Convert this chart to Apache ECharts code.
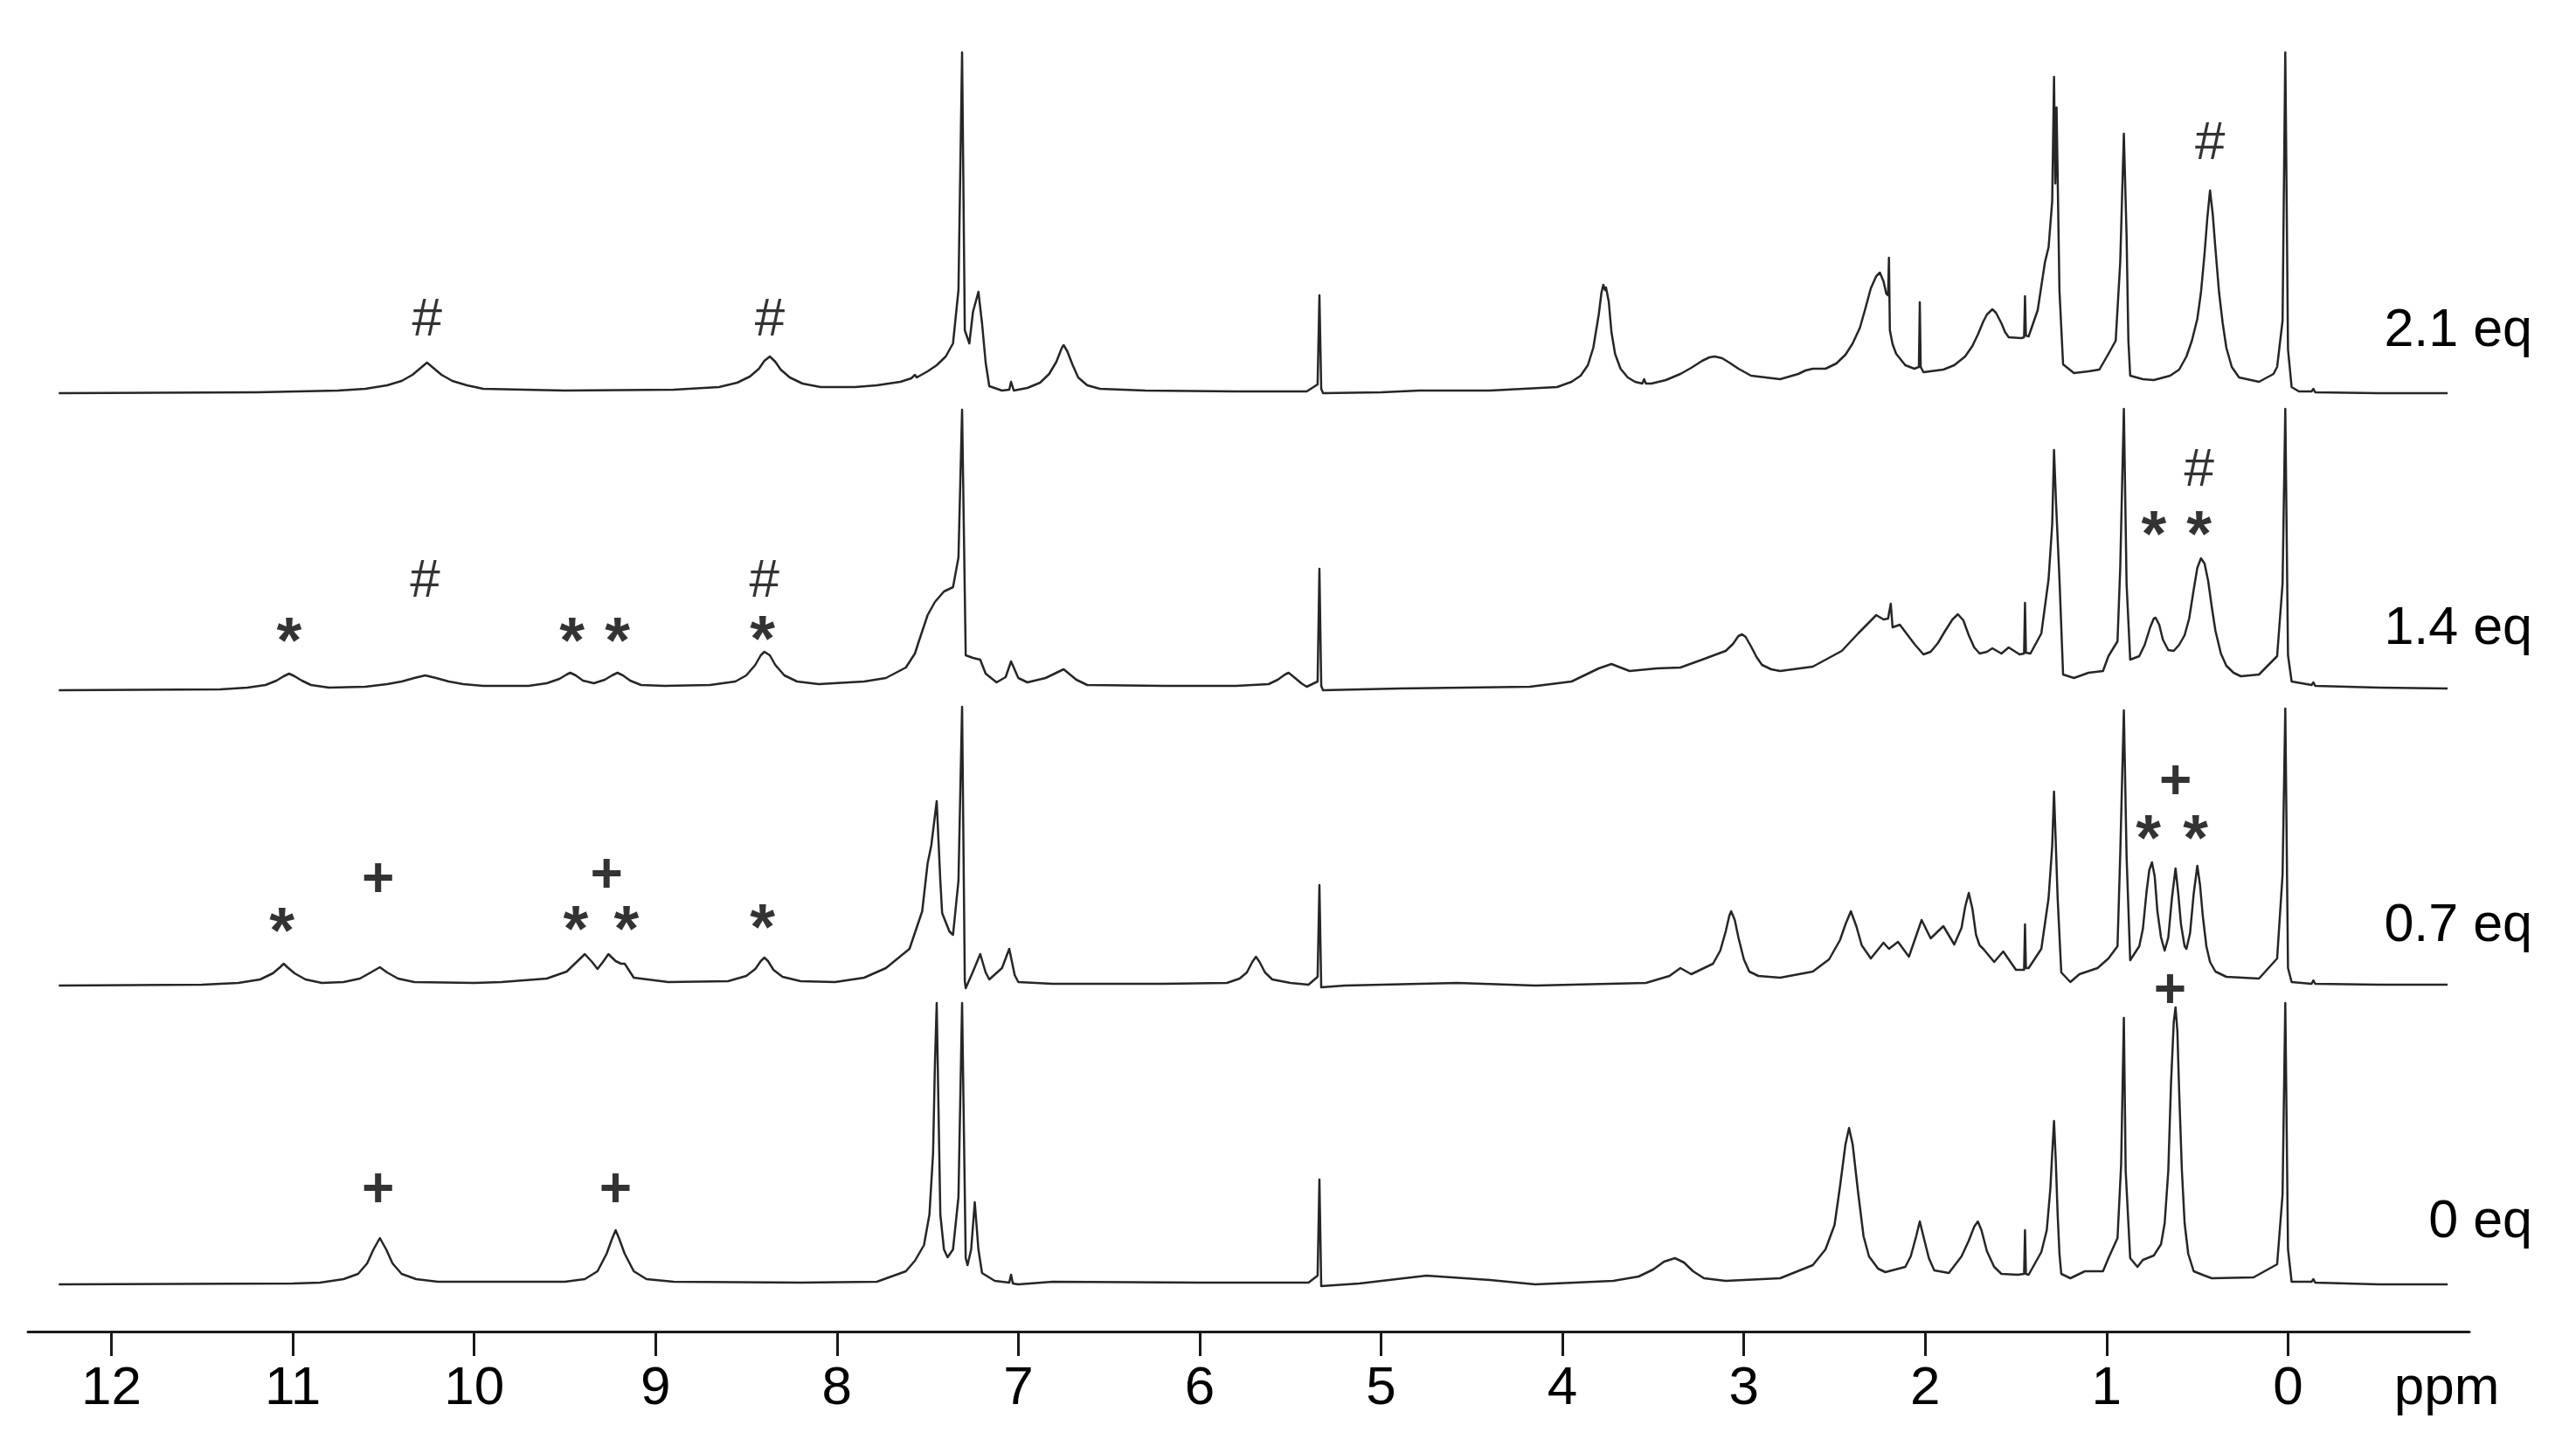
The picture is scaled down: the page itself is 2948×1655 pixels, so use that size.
<!DOCTYPE html>
<html>
<head>
<meta charset="utf-8">
<title>1H NMR titration</title>
<script src="https://cdn.jsdelivr.net/npm/echarts@6.0.0/dist/echarts.min.js"></script>
<style>
  html, body { margin: 0; padding: 0; background: #fff; }
  #main { width: 2948px; height: 1655px; }
</style>
</head>
<body>
<div id="main"></div>
<script>
// trace names, top to bottom
var traceNames = ['2.1 eq', '1.4 eq', '0.7 eq', '0 eq'];
var tickValues = [0, 1, 2, 3, 4, 5, 6, 7, 8, 9, 10, 11, 12];

// [ppm, intensity]
var spec21 = [[12.29,0],[11.2,1],[10.75,3],[10.6,5],[10.48,9],[10.40,14],[10.34,21],[10.30,28],[10.26,35],[10.22,28],[10.18,21],[10.12,14],[10.04,9],[9.95,5],[9.5,3],[8.9,4],[8.65,7],[8.55,12],[8.48,19],[8.43,28],[8.40,37],[8.37,42],[8.34,36],[8.31,27],[8.26,18],[8.19,11],[8.09,7],[7.9,7],[7.78,9],[7.65,13],[7.59,17],[7.57,21],[7.56,18],[7.5,25],[7.45,32],[7.40,42],[7.36,57],[7.33,118],[7.31,390],[7.295,72],[7.27,57],[7.25,93],[7.22,116],[7.20,80],[7.18,35],[7.16,8],[7.09,3],[7.05,4],[7.04,13],[7.025,3],[6.95,6],[6.88,12],[6.83,22],[6.79,36],[6.76,52],[6.75,55],[6.73,48],[6.70,32],[6.67,18],[6.62,9],[6.55,5],[6.3,3],[5.8,2],[5.41,2],[5.35,10],[5.34,112],[5.33,5],[5.32,0],[5.0,1],[4.79,3],[4.4,3],[4.03,7],[3.95,13],[3.90,20],[3.86,32],[3.83,52],[3.80,90],[3.785,115],[3.775,124],[3.765,118],[3.76,121],[3.745,105],[3.73,70],[3.71,45],[3.68,28],[3.64,18],[3.60,13],[3.56,11],[3.55,16],[3.54,11],[3.51,11],[3.43,15],[3.35,22],[3.29,29],[3.23,37],[3.19,41],[3.16,42],[3.12,40],[3.08,35],[3.03,28],[2.96,20],[2.80,16],[2.70,22],[2.66,26],[2.62,28],[2.55,28],[2.49,34],[2.44,44],[2.40,57],[2.36,75],[2.33,97],[2.30,120],[2.27,134],[2.25,138],[2.23,128],[2.215,114],[2.205,112],[2.20,155],[2.195,72],[2.18,56],[2.16,45],[2.11,32],[2.06,28],[2.035,30],[2.03,104],[2.025,30],[2.01,24],[1.90,27],[1.84,32],[1.78,42],[1.74,54],[1.71,67],[1.68,82],[1.66,90],[1.63,96],[1.61,92],[1.58,80],[1.56,70],[1.54,64],[1.47,63],[1.455,64],[1.45,111],[1.445,66],[1.43,65],[1.38,95],[1.34,150],[1.32,167],[1.30,220],[1.29,362],[1.283,240],[1.276,327],[1.26,117],[1.24,33],[1.18,23],[1.10,25],[1.04,27],[0.99,45],[0.95,60],[0.925,150],[0.905,297],[0.89,180],[0.88,60],[0.87,20],[0.80,16],[0.74,15],[0.65,20],[0.60,27],[0.56,42],[0.53,60],[0.50,85],[0.48,115],[0.46,160],[0.445,200],[0.43,232],[0.415,205],[0.40,165],[0.38,115],[0.36,80],[0.34,52],[0.31,30],[0.27,18],[0.16,13],[0.08,22],[0.06,30],[0.03,83],[0.015,390],[0.0,50],[-0.02,7],[-0.06,2],[-0.13,2],[-0.14,5],[-0.15,1],[-0.5,0],[-0.88,0]];

var spec14 = [[12.29,0],[11.4,1],[11.25,3],[11.15,6],[11.09,11],[11.05,16],[11.02,19],[10.99,16],[10.95,11],[10.90,6],[10.8,3],[10.6,4],[10.48,7],[10.40,10],[10.33,14],[10.27,17],[10.21,14],[10.14,10],[10.06,7],[9.95,5],[9.7,5],[9.60,8],[9.53,13],[9.49,18],[9.47,20],[9.44,17],[9.40,11],[9.34,8],[9.28,12],[9.24,17],[9.21,20],[9.18,17],[9.14,11],[9.08,6],[8.95,5],[8.7,6],[8.56,10],[8.50,17],[8.45,29],[8.42,40],[8.40,44],[8.37,40],[8.34,29],[8.29,17],[8.22,10],[8.1,7],[7.85,10],[7.73,14],[7.62,26],[7.57,42],[7.55,55],[7.50,86],[7.46,101],[7.41,113],[7.36,118],[7.33,152],[7.31,321],[7.29,40],[7.25,37],[7.21,35],[7.18,19],[7.12,9],[7.07,15],[7.04,33],[7.00,14],[6.95,9],[6.85,14],[6.75,24],[6.68,12],[6.62,6],[6.2,5],[5.80,5],[5.62,7],[5.57,12],[5.53,18],[5.51,20],[5.48,15],[5.44,8],[5.41,4],[5.35,10],[5.34,139],[5.33,5],[5.32,0],[4.9,2],[4.18,4],[3.95,10],[3.88,17],[3.80,25],[3.73,30],[3.63,22],[3.48,25],[3.35,26],[3.23,35],[3.14,42],[3.10,45],[3.06,53],[3.03,62],[3.01,64],[2.99,61],[2.96,50],[2.93,38],[2.90,29],[2.85,24],[2.80,22],[2.62,27],[2.46,45],[2.37,65],[2.27,86],[2.23,81],[2.205,82],[2.19,99],[2.18,72],[2.14,75],[2.06,53],[2.01,41],[1.97,44],[1.93,54],[1.89,68],[1.85,81],[1.82,87],[1.79,80],[1.76,63],[1.73,49],[1.70,42],[1.66,44],[1.63,48],[1.58,42],[1.54,49],[1.48,41],[1.455,42],[1.45,100],[1.445,43],[1.42,42],[1.36,65],[1.32,127],[1.30,190],[1.29,275],[1.28,220],[1.26,127],[1.24,18],[1.18,14],[1.10,20],[1.02,22],[0.99,39],[0.94,56],[0.925,140],[0.905,322],[0.89,122],[0.87,35],[0.82,39],[0.79,52],[0.76,72],[0.74,82],[0.73,83],[0.71,75],[0.69,58],[0.66,46],[0.63,45],[0.60,52],[0.57,63],[0.545,82],[0.52,115],[0.50,140],[0.48,151],[0.46,145],[0.44,125],[0.42,95],[0.40,68],[0.37,42],[0.34,28],[0.30,20],[0.26,16],[0.16,18],[0.06,39],[0.03,122],[0.015,322],[0.0,40],[-0.02,10],[-0.13,6],[-0.14,9],[-0.15,5],[-0.5,3],[-0.88,2]];

var spec07 = [[12.29,0],[11.5,1],[11.3,3],[11.18,7],[11.11,14],[11.07,21],[11.05,25],[11.03,21],[10.99,14],[10.93,7],[10.84,3],[10.72,4],[10.63,8],[10.57,15],[10.52,21],[10.48,15],[10.42,8],[10.33,4],[10.0,3],[9.85,4],[9.6,8],[9.49,16],[9.43,28],[9.39,36],[9.35,27],[9.32,19],[9.29,27],[9.26,36],[9.22,28],[9.19,25],[9.17,25],[9.12,9],[8.93,4],[8.6,5],[8.50,11],[8.45,19],[8.42,28],[8.40,32],[8.38,28],[8.35,18],[8.30,10],[8.2,5],[8.01,4],[7.85,9],[7.73,20],[7.60,42],[7.53,85],[7.50,140],[7.48,160],[7.45,211],[7.43,120],[7.42,83],[7.38,62],[7.36,58],[7.33,120],[7.31,319],[7.295,5],[7.29,-3],[7.25,16],[7.21,36],[7.18,15],[7.16,7],[7.09,20],[7.05,42],[7.02,12],[7.00,4],[6.81,2],[6.2,2],[5.85,3],[5.78,8],[5.74,15],[5.71,27],[5.69,33],[5.67,27],[5.64,15],[5.60,7],[5.5,3],[5.40,1],[5.35,10],[5.34,115],[5.33,-2],[5.2,0],[4.58,3],[4.15,0],[3.54,3],[3.41,11],[3.35,20],[3.29,13],[3.17,25],[3.13,40],[3.10,62],[3.08,80],[3.07,85],[3.05,75],[3.03,55],[3.00,30],[2.97,16],[2.92,11],[2.80,9],[2.62,16],[2.53,30],[2.47,52],[2.44,70],[2.41,85],[2.38,68],[2.35,46],[2.30,31],[2.23,49],[2.20,42],[2.15,50],[2.09,33],[2.02,75],[1.97,54],[1.90,68],[1.84,47],[1.80,66],[1.78,90],[1.76,106],[1.74,88],[1.72,58],[1.70,46],[1.68,42],[1.62,27],[1.57,39],[1.50,18],[1.455,18],[1.45,70],[1.445,20],[1.43,20],[1.36,42],[1.32,100],[1.30,160],[1.29,222],[1.27,100],[1.25,15],[1.20,4],[1.15,13],[1.05,20],[0.99,31],[0.94,45],[0.925,150],[0.905,315],[0.89,148],[0.87,29],[0.82,45],[0.80,65],[0.78,107],[0.765,132],[0.75,141],[0.735,125],[0.72,85],[0.70,55],[0.68,40],[0.66,55],[0.64,100],[0.62,134],[0.605,105],[0.59,70],[0.57,45],[0.56,42],[0.54,60],[0.52,105],[0.50,137],[0.485,115],[0.47,80],[0.45,45],[0.43,27],[0.40,16],[0.34,10],[0.16,8],[0.06,31],[0.03,127],[0.015,317],[0.0,20],[-0.02,4],[-0.13,2],[-0.14,6],[-0.15,2],[-0.5,1],[-0.88,1]];

var spec00 = [[12.29,0],[11.0,1],[10.85,2],[10.72,6],[10.64,12],[10.59,24],[10.555,40],[10.52,53],[10.485,40],[10.45,24],[10.40,12],[10.32,6],[10.2,3],[9.8,3],[9.5,3],[9.39,6],[9.32,15],[9.27,35],[9.24,52],[9.22,62],[9.20,52],[9.17,35],[9.12,15],[9.05,6],[8.9,3],[8.2,2],[7.78,3],[7.62,15],[7.57,27],[7.52,45],[7.49,80],[7.47,150],[7.46,250],[7.45,322],[7.44,200],[7.43,80],[7.41,40],[7.39,31],[7.36,40],[7.33,100],[7.31,322],[7.29,30],[7.28,22],[7.26,40],[7.24,94],[7.22,40],[7.20,13],[7.13,4],[7.05,2],[7.04,11],[7.03,1],[7.0,0],[6.81,3],[6.0,2],[5.40,2],[5.35,10],[5.34,120],[5.33,-2],[5.12,1],[4.75,10],[4.40,5],[4.15,0],[3.72,4],[3.58,9],[3.50,17],[3.44,26],[3.38,30],[3.33,25],[3.28,15],[3.22,7],[3.1,4],[2.80,7],[2.62,22],[2.55,40],[2.50,68],[2.47,112],[2.44,160],[2.42,179],[2.40,160],[2.37,105],[2.34,55],[2.31,32],[2.26,18],[2.22,14],[2.11,20],[2.08,32],[2.05,55],[2.03,72],[2.01,55],[1.98,30],[1.95,16],[1.87,13],[1.80,32],[1.76,50],[1.73,66],[1.71,72],[1.69,62],[1.66,38],[1.62,20],[1.58,12],[1.49,11],[1.455,12],[1.45,62],[1.445,12],[1.43,11],[1.36,37],[1.33,62],[1.31,110],[1.30,150],[1.29,187],[1.28,140],[1.27,80],[1.26,35],[1.25,12],[1.20,7],[1.12,15],[1.02,15],[0.99,30],[0.94,53],[0.92,137],[0.905,305],[0.895,130],[0.88,70],[0.87,30],[0.83,20],[0.80,28],[0.74,33],[0.70,46],[0.68,70],[0.66,130],[0.645,230],[0.63,300],[0.62,317],[0.61,290],[0.60,220],[0.585,130],[0.57,70],[0.55,35],[0.52,15],[0.46,10],[0.42,7],[0.19,8],[0.06,23],[0.03,103],[0.015,322],[0.0,40],[-0.02,3],[-0.13,3],[-0.14,6],[-0.15,2],[-0.5,0],[-0.88,0]];

// peak markers: [ppm, height above trace baseline, symbol]
var marks21 = [[10.26,83,'#'],[8.37,83,'#'],[0.43,285,'#']];
var marks14 = [[11.02,68,'*'],[10.27,124,'#'],[9.46,68,'*'],[9.21,68,'*'],[8.40,124,'#'],[8.41,70,'*'],[0.74,190,'*'],[0.49,190,'*'],[0.49,251,'#']];
var marks07 = [[11.06,74,'*'],[10.53,120,'+'],[9.44,76,'*'],[9.27,125,'+'],[9.16,76,'*'],[8.41,78,'*'],[0.77,180,'*'],[0.62,232,'+'],[0.51,180,'*']];
var marks00 = [[10.53,107,'+'],[9.22,107,'+'],[0.65,335,'+']];

var spectra = [spec21, spec14, spec07, spec00];
var marks = [marks21, marks14, marks07, marks00];

// vertical stacking of the traces (y axis units = px)
var offsets = [1074, 734, 396, 54];
var labelY = [379, 720, 1060, 1399];
var FONT = "'Liberation Sans', Arial, Helvetica, sans-serif";

var myChart = echarts.init(document.getElementById('main'));

var series = [];
spectra.forEach(function (sp, i) {
  series.push({
    name: traceNames[i],
    type: 'line',
    data: sp.map(function (p) { return [p[0], p[1] + offsets[i]]; }),
    showSymbol: false,
    symbol: 'none',
    silent: true,
    lineStyle: { color: '#262626', width: 2.5, join: 'round' },
    z: 2
  });
  series.push({
    type: 'scatter',
    symbolSize: 1,
    itemStyle: { color: 'rgba(0,0,0,0)' },
    silent: true,
    data: marks[i].map(function (m) {
      var lbl = {};
      if (m[2] === '*') lbl = { fontSize: 74, fontWeight: 'bold', offset: [0, 16] };
      if (m[2] === '+') lbl = { fontSize: 64, fontWeight: 'bold' };
      return { name: m[2], value: [m[0], m[1] + offsets[i]], label: lbl };
    }),
    label: {
      show: true,
      position: 'inside',
      formatter: '{b}',
      fontSize: 62,
      fontFamily: FONT,
      color: '#000'
    },
    z: 3
  });
});

var graphics = traceNames.map(function (t, i) {
  return {
    type: 'text',
    x: 2898,
    y: labelY[i],
    style: {
      text: t, fill: '#000', font: '61px ' + FONT,
      textAlign: 'right', textVerticalAlign: 'middle'
    }
  };
});
graphics.push({
  type: 'text',
  x: 2800,
  y: 1590,
  style: {
    text: 'ppm', fill: '#000', font: '62px ' + FONT,
    textAlign: 'center', textVerticalAlign: 'middle'
  }
});

var option = {
  animation: false,
  backgroundColor: '#fff',
  grid: { left: 32, right: 122, top: 0, bottom: 131 },
  xAxis: {
    type: 'value',
    inverse: true,
    min: -1.0,
    max: 12.46,
    splitLine: { show: false },
    axisLine: { onZero: false, lineStyle: { color: '#1a1a1a', width: 3 } },
    axisTick: {
      inside: false, length: 28, customValues: tickValues,
      lineStyle: { color: '#1a1a1a', width: 3 }
    },
    axisLabel: {
      customValues: tickValues, margin: 35,
      fontSize: 62, fontFamily: FONT, color: '#000'
    }
  },
  yAxis: { type: 'value', min: 0, max: 1524, show: false },
  graphic: graphics,
  series: series
};
myChart.setOption(option);
</script>
</body>
</html>
